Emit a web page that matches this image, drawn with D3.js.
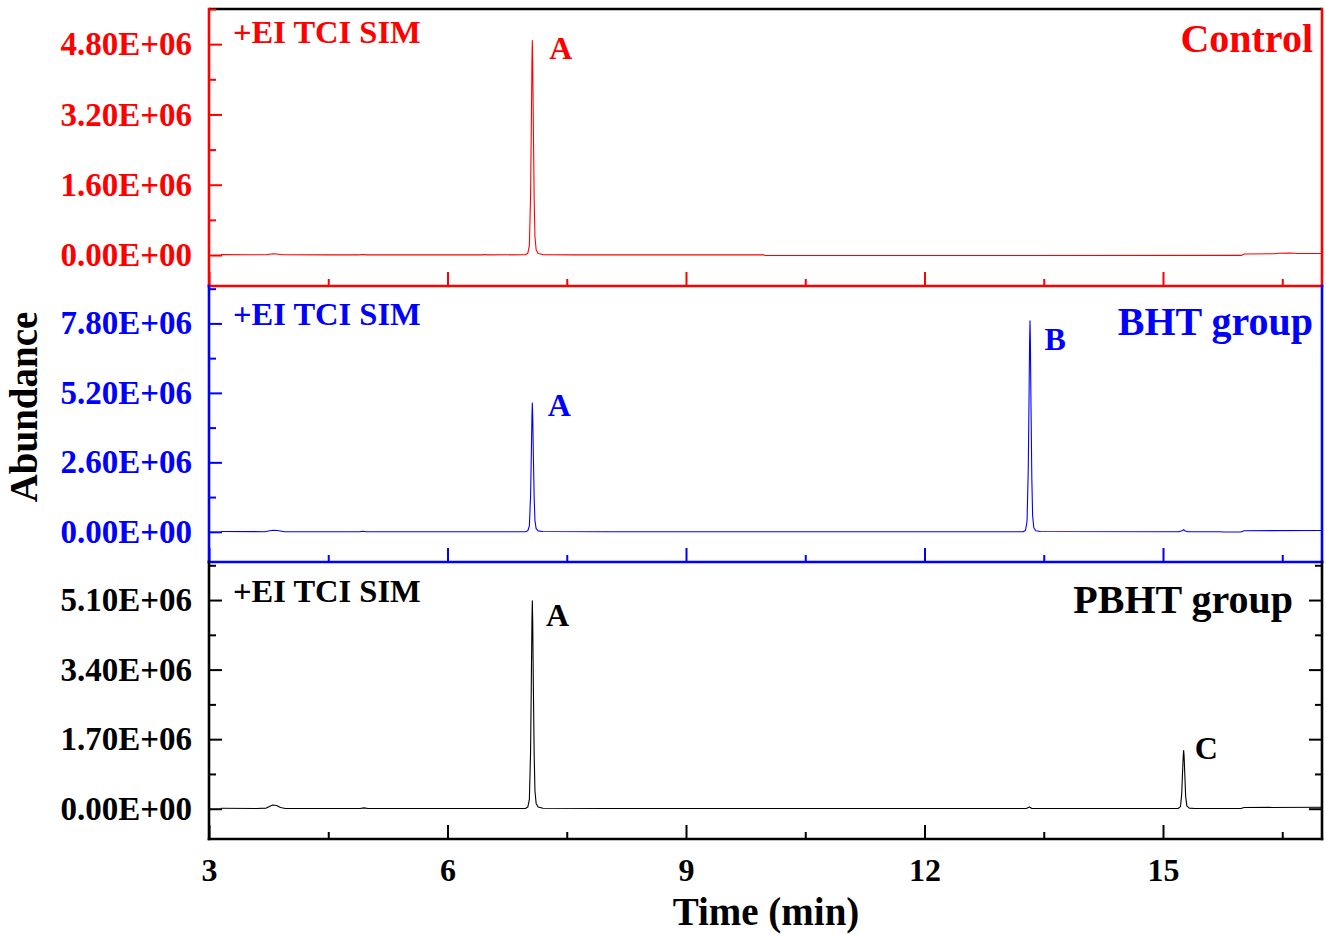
<!DOCTYPE html>
<html>
<head>
<meta charset="utf-8">
<script src="https://cdn.jsdelivr.net/npm/d3@7"></script>
<style>
body { margin: 0; background: #fff; }
svg { display: block; font-family: "Liberation Serif", "Times New Roman", serif; font-weight: bold; }
</style>
</head>
<body>
<script>
// Chromatogram traces: [time (min), abundance in units of 1E+06]
var controlTrace = [
  [3.15, 0.01], [3.5, 0.005], [3.72, 0.008], [3.8, 0.03], [3.85, 0.025], [3.92, 0.005],
  [4.5, 0.003], [4.88, 0.004], [4.93, 0.012], [4.98, 0.004], [6.0, 0.003], [6.44, 0.004],
  [6.47, 0.012], [6.5, 0.004], [6.98, 0.005], [7.01, 0.04], [7.03, 0.22], [7.045, 1.35],
  [7.055, 3.05], [7.062, 4.35], [7.067, 4.88], [7.072, 4.38], [7.08, 2.9], [7.09, 1.3],
  [7.1, 0.42], [7.115, 0.12], [7.14, 0.035], [7.2, 0.01], [7.6, 0.004], [9.98, 0.003],
  [10.0, -0.01], [13.0, -0.01], [15.99, -0.008], [16.02, 0.025], [16.4, 0.03],
  [16.45, 0.04], [16.6, 0.045], [16.7, 0.035], [17.0, 0.035]
];
var bhtTrace = [
  [3.15, 0.01], [3.7, 0.005], [3.8, 0.06], [3.86, 0.05], [3.95, 0.0], [4.9, 0.005],
  [4.93, 0.02], [4.98, 0.0], [6.98, 0.005], [7.01, 0.04], [7.03, 0.22], [7.045, 1.35],
  [7.055, 3.0], [7.062, 4.3], [7.067, 4.82], [7.072, 4.32], [7.08, 2.85], [7.09, 1.28],
  [7.1, 0.42], [7.115, 0.12], [7.14, 0.035], [7.2, 0.01], [8.0, 0.003], [13.24, 0.003],
  [13.27, 0.05], [13.29, 0.4], [13.305, 2.3], [13.315, 5.0], [13.322, 7.1], [13.327, 7.9],
  [13.332, 7.1], [13.34, 4.6], [13.35, 2.0], [13.36, 0.6], [13.375, 0.15], [13.4, 0.04],
  [13.46, 0.01], [15.2, 0.005], [15.24, 0.04], [15.26, 0.08], [15.28, 0.03], [15.32, 0.0],
  [15.73, 0.0], [15.76, -0.008], [15.98, -0.008], [16.02, 0.04], [17.0, 0.05]
];
var pbhtTrace = [
  [3.15, 0.01], [3.6, 0.005], [3.72, 0.015], [3.8, 0.09], [3.85, 0.08], [3.9, 0.03],
  [3.96, 0.005], [4.9, 0.005], [4.95, 0.02], [5.0, 0.005], [6.98, 0.005], [7.01, 0.04],
  [7.03, 0.23], [7.045, 1.4], [7.055, 3.2], [7.062, 4.55], [7.067, 5.08], [7.072, 4.55],
  [7.08, 3.0], [7.09, 1.35], [7.1, 0.44], [7.115, 0.13], [7.14, 0.04], [7.2, 0.01],
  [8.0, 0.004], [13.28, 0.004], [13.32, 0.04], [13.35, 0.004], [15.19, 0.005],
  [15.22, 0.05], [15.235, 0.35], [15.245, 0.85], [15.255, 1.3], [15.26, 1.42],
  [15.265, 1.3], [15.275, 0.8], [15.285, 0.3], [15.3, 0.07], [15.33, 0.015], [15.4, 0.005],
  [15.98, 0.005], [16.02, 0.03], [17.0, 0.035]
];

var groupNames = ["Control", "BHT group", "PBHT group"];
var groupColors = ["#ff0000", "#0000ff", "#000000"];
var modeLabel = "+EI TCI SIM";

// y axes (units of 1E+06)
var yTickValues = [[0, 1.6, 3.2, 4.8], [0, 2.6, 5.2, 7.8], [0, 1.7, 3.4, 5.1]];
var yRanges = [[-0.705, 5.6], [-1.13, 9.2], [-0.74, 6.03]];

// x axis (min)
var xRange = [3, 17];
var xTickValues = [3, 6, 9, 12, 15];

// peak letters: [label, time, abundance] where the letter sits
var peakLabels = [
  [["A", 7.28, 4.46]],
  [["A", 7.26, 4.33], ["B", 13.51, 6.80]],
  [["A", 7.24, 4.46], ["C", 15.40, 1.21]]
];

var traces = [controlTrace, bhtTrace, pbhtTrace];

// layout
var width = 1326, height = 935;
var left = 209, right = 1322;
var panelTops = [9, 286, 562], panelBottoms = [286, 562, 839];
var modeBaselines = [43, 325, 602];
var nameX = [1313, 1313, 1293], nameBaselines = [52, 335, 613];

var x = d3.scaleLinear().domain(xRange).range([left, right]);

var fmt = function (d) { return d === 0 ? "0.00E+00" : d.toFixed(2) + "E+06"; };

var svg = d3.select("body").append("svg")
    .attr("width", width)
    .attr("height", height);

var xMinor = xTickValues.map(function (v) { return v + 1.5; })
    .filter(function (v) { return v < xRange[1]; });

traces.forEach(function (trace, i) {
  var color = groupColors[i];
  var y = d3.scaleLinear().domain(yRanges[i]).range([panelBottoms[i], panelTops[i]]);
  var g = svg.append("g").style("color", color);

  var major = yTickValues[i];
  var step = major[1] - major[0];
  var minor = major.map(function (v) { return v + step / 2; })
      .filter(function (v) { return v <= yRanges[i][1] + 1e-9; });

  // trace
  g.append("path")
      .datum(trace)
      .attr("d", d3.line().x(function (d) { return x(d[0]); }).y(function (d) { return y(d[1]); }))
      .attr("fill", "none")
      .attr("stroke", color)
      .attr("stroke-width", 1.1)
      .attr("stroke-linejoin", "round");

  // left axis, ticks pointing inward
  var ya = g.append("g")
      .attr("transform", "translate(" + left + ",0)")
      .call(d3.axisLeft(y).tickValues(major).tickSize(-13).tickSizeOuter(0).tickPadding(17).tickFormat(fmt));
  g.append("g")
      .attr("transform", "translate(" + left + ",0)")
      .call(d3.axisLeft(y).tickValues(minor).tickSize(-7).tickSizeOuter(0).tickFormat(""));

  // right ticks only on the last panel
  if (i === 2) {
    g.append("g")
        .attr("transform", "translate(" + right + ",0)")
        .call(d3.axisRight(y).tickValues(major).tickSize(-13).tickSizeOuter(0).tickFormat(""));
    g.append("g")
        .attr("transform", "translate(" + right + ",0)")
        .call(d3.axisRight(y).tickValues(minor).tickSize(-7).tickSizeOuter(0).tickFormat(""));
  }

  // bottom ticks, labels only on the last panel
  var xa = g.append("g")
      .attr("transform", "translate(0," + panelBottoms[i] + ")")
      .call(d3.axisBottom(x).tickValues(xTickValues).tickSize(-14).tickSizeOuter(0).tickPadding(18)
        .tickFormat(i === 2 ? d3.format("d") : ""));
  g.append("g")
      .attr("transform", "translate(0," + panelBottoms[i] + ")")
      .call(d3.axisBottom(x).tickValues(xMinor).tickSize(-7).tickSizeOuter(0).tickFormat(""));

  g.selectAll(".domain").remove();
  g.selectAll(".tick line").attr("stroke-width", 2);
  g.selectAll("g").attr("font-family", null).attr("font-size", null);
  ya.selectAll("text").attr("font-size", 33);
  xa.selectAll("text").attr("font-size", 32).attr("y", null).attr("dy", null)
      .attr("transform", "translate(0," + (881 - panelBottoms[i]) + ")");

  // frame
  var frame = g.append("g").attr("stroke", color).attr("stroke-width", 2.6).attr("stroke-linecap", "square");
  frame.append("line").attr("x1", left).attr("x2", left).attr("y1", panelTops[i]).attr("y2", panelBottoms[i]);
  frame.append("line").attr("x1", right).attr("x2", right).attr("y1", panelTops[i]).attr("y2", panelBottoms[i]);
  frame.append("line").attr("x1", left).attr("x2", right).attr("y1", panelBottoms[i]).attr("y2", panelBottoms[i]);

  // texts
  g.append("text")
      .attr("x", 233)
      .attr("y", modeBaselines[i])
      .attr("fill", color)
      .attr("font-size", 32.5)
      .text(modeLabel);

  g.append("text")
      .attr("x", nameX[i])
      .attr("y", nameBaselines[i])
      .attr("text-anchor", "end")
      .attr("fill", color)
      .attr("font-size", 40)
      .text(groupNames[i]);

  g.selectAll(".peak")
      .data(peakLabels[i])
      .enter()
      .append("text")
      .attr("class", "peak")
      .attr("x", function (d) { return x(d[1]); })
      .attr("y", function (d) { return y(d[2]); })
      .attr("fill", color)
      .attr("font-size", 32)
      .text(function (d) { return d[0]; });
});

// top border of the first panel
svg.insert("line", ":first-child")
    .attr("x1", left).attr("x2", right)
    .attr("y1", panelTops[0]).attr("y2", panelTops[0])
    .attr("stroke", "#000").attr("stroke-width", 2.6);

// axis titles
svg.append("text")
    .attr("transform", "translate(37,407) rotate(-90)")
    .attr("text-anchor", "middle")
    .attr("font-size", 39)
    .text("Abundance");

svg.append("text")
    .attr("x", 766)
    .attr("y", 925)
    .attr("text-anchor", "middle")
    .attr("font-size", 39)
    .text("Time (min)");
</script>
</body>
</html>
